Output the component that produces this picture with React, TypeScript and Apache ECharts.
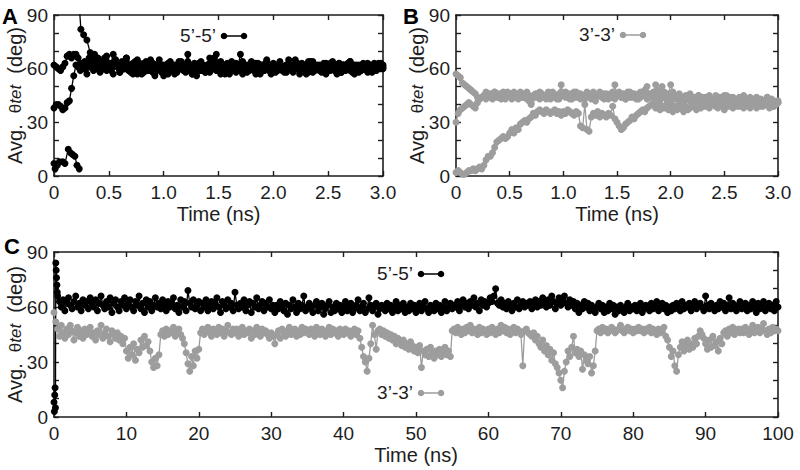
import { useEffect, useRef } from "react";
import * as echarts from "echarts";

// ---------- tick labels ----------
const Y_LABELS = [0, 30, 60, 90];
const AB_X_LABELS = ["0", "0.5", "1.0", "1.5", "2.0", "2.5", "3.0"];
const C_X_LABELS = ["0", "10", "20", "30", "40", "50", "60", "70", "80", "90", "100"];

// ---------- panel A (5'-5', 0-3 ns, sampled every 0.02 ns) ----------
const A_STEP = 0.02;
const A_TRACE_1 = [
  62, 61, 60, 59, 61, 63, 67, 68, 66, 68,
  68, 66, 63, 61, 64, 62, 66, 68, 65, 61,
  63, 59, 62, 66, 64, 60, 63, 68, 65, 62,
  59, 64, 61, 66, 62, 58, 63, 60, 65, 61,
  57, 62, 64, 59, 61, 63, 58, 60, 65, 62,
  59, 61, 57, 63, 60, 62, 58, 64, 61, 59,
  62, 68, 60, 57, 63, 61, 59, 64, 62, 58,
  61, 63, 60, 66, 68, 61, 59, 62, 57, 63,
  60, 64, 61, 58, 62, 68, 63, 60, 59, 62,
  64, 61, 57, 63, 60, 62, 59, 65, 61, 58,
  63, 60, 62, 64, 59, 61, 58, 63, 60, 62,
  65, 61, 59, 63, 60, 62, 58, 61, 64, 60,
  62, 59, 61, 63, 57, 60, 62, 64, 59, 61,
  63, 58, 62, 60, 61, 64, 59, 62, 60, 58,
  61, 63, 60, 62, 59, 61, 63, 60, 62, 61,
  62,
];
const A_TRACE_2 = [
  38, 40, 40, 39, 37, 38, 41, 42, 49, 56,
  62, 61, 59, 62, 60, 57, 61, 63, 59, 62,
  60, 58, 64, 61, 59, 62, 60, 57, 63, 61,
  58, 62, 60, 64, 59, 61, 57, 62, 60, 63,
  61, 58, 60, 62, 59, 63, 56, 61, 60, 58,
  62, 60, 63, 59, 61, 57, 62, 60, 64, 61,
  58, 61, 59, 62, 60, 56, 61, 63, 59, 60,
  62, 58, 61, 60, 63, 59, 57, 62, 60, 61,
  58, 62, 60, 63, 59, 61, 57, 60, 62, 59,
  61, 63, 60, 58, 62, 59, 61, 64, 60, 57,
  62, 60, 59, 63, 61, 58, 62, 60, 61, 59,
  63, 60, 57, 62, 61, 59, 64, 60, 58, 62,
  60, 61, 59, 62, 58, 60, 63, 61, 59, 62,
  60, 58, 62, 61, 63, 59, 60, 57, 61, 62,
  59, 61, 60, 58, 62, 60, 61, 59, 63, 60,
  61,
];
// third trajectory: low branch, then wraps in from above 90
const A_TRACE_3_LOW = [
  [0, 7], [0.01, 4], [0.03, 6], [0.05, 8], [0.08, 8], [0.1, 7],
  [0.13, 15], [0.15, 13], [0.17, 12], [0.19, 11], [0.21, 6], [0.23, 4],
];
const A_TRACE_3_HIGH_HEAD = [
  [0.225, 100], [0.245, 82], [0.27, 79], [0.3, 76], [0.33, 69], [0.37, 68],
];
const A_TRACE_3_TAIL_START = 0.4;
const A_TRACE_3_TAIL = [
  66, 62, 64, 60, 67, 63, 59, 62, 65, 61,
  58, 63, 60, 66, 62, 59, 61, 64, 57, 62,
  60, 63, 59, 61, 65, 58, 62, 60, 63, 61,
  56, 60, 62, 64, 59, 61, 58, 63, 60, 62,
  59, 64, 61, 57, 62, 60, 63, 59, 61, 58,
  62, 66, 60, 63, 59, 61, 64, 58, 62, 60,
  57, 63, 61, 59, 62, 60, 64, 61, 58, 62,
  60, 59, 63, 61, 57, 62, 60, 64, 59, 61,
  62, 58, 60, 63, 61, 59, 62, 65, 60, 58,
  61, 63, 59, 62, 60, 57, 61, 64, 62, 59,
  60, 62, 58, 61, 63, 60, 59, 62, 61, 57,
  63, 60, 62, 59, 61, 64, 58, 60, 62, 61,
  59, 62, 60, 63, 61, 58, 62, 60, 61, 63,
  60,
];

// ---------- panel B (3'-3', 0-3 ns, sampled every 0.02 ns) ----------
const B_STEP = 0.02;
const B_TRACE_1 = [
  57, 56, 55, 52, 51, 50, 49, 48, 47, 46,
  44, 43, 44, 45, 47, 44, 46, 43, 47, 45,
  44, 46, 47, 43, 45, 46, 44, 47, 45, 43,
  46, 44, 45, 47, 42, 40, 45, 44, 46, 47,
  44, 45, 43, 46, 44, 47, 45, 43, 46, 51,
  45, 47, 44, 46, 43, 45, 47, 44, 46, 45,
  43, 47, 45, 44, 46, 42, 45, 47, 44, 46,
  45, 43, 46, 44, 51, 45, 47, 44, 46, 43,
  45, 47, 44, 46, 45, 43, 47, 45, 48, 50,
  46, 44, 47, 51, 48, 45, 50, 47, 44, 46,
  51, 47, 45, 43, 46, 44, 42, 45, 43, 46,
  41, 44, 42, 45, 43, 40, 44, 42, 45, 41,
  43, 39, 44, 41, 42, 45, 40, 43, 41, 44,
  42, 39, 43, 41, 44, 40, 42, 38, 43, 41,
  40, 43, 39, 42, 41, 44, 40, 42, 39, 41,
  42,
];
const B_TRACE_2 = [
  30, 35, 37, 38, 39, 40, 41, 40, 39, 38,
  41, 43, 44, 45, 43, 46, 44, 45, 47, 44,
  46, 43, 45, 44, 47, 45, 43, 46, 44, 45,
  47, 44, 46, 43, 45, 41, 44, 46, 45, 43,
  46, 44, 45, 47, 43, 46, 44, 45, 43, 47,
  45, 44, 46, 43, 45, 47, 44, 46, 43, 45,
  44, 46, 45, 43, 47, 44, 45, 46, 44, 43,
  46, 45, 44, 47, 43, 45, 46, 44, 45, 43,
  47, 44, 46, 45, 43, 46, 44, 45, 47, 43,
  45, 46, 44, 43, 45, 42, 44, 46, 43, 45,
  41, 44, 43, 45, 42, 44, 41, 43, 45, 42,
  44, 40, 43, 45, 41, 44, 42, 39, 44, 43,
  41, 45, 42, 44, 40, 43, 45, 41, 44, 42,
  43, 40, 44, 42, 45, 41, 43, 44, 40, 42,
  44, 41, 43, 40, 42, 44, 41, 43, 42, 40,
  41,
];
const B_TRACE_3 = [
  2, 3, 2, 1, 1, 2, 3, 3, 4, 3,
  4, 5, 4, 6, 9, 11, 11, 13, 16, 19,
  20, 21, 22, 21, 22, 24, 26, 24, 27, 26,
  29, 30, 31, 30, 32, 33, 35, 34, 36, 37,
  36, 35, 37, 36, 35, 36, 37, 35, 36, 34,
  36, 35, 37, 36, 35, 34, 36, 35, 28, 27,
  40, 26, 25, 33, 35, 34, 36, 33, 35, 34,
  33, 35, 34, 39, 32, 30, 28, 26, 27, 29,
  30, 31, 33, 32, 34, 35, 36, 37, 36, 38,
  39, 40, 41, 38, 40, 37, 39, 38, 40, 37,
  38, 36, 39, 37, 40, 38, 36, 39, 37, 38,
  40, 39, 37, 41, 38, 40, 39, 42, 38, 40,
  41, 39, 38, 42, 40, 37, 41, 39, 40, 38,
  42, 40, 39, 41, 38, 40, 43, 39, 41, 40,
  38, 41, 40, 39, 42, 40, 38, 41, 39, 40,
  41,
];

// ---------- panel C (0-100 ns, sampled every 0.25 ns) ----------
const C_STEP = 0.25;
const C_55_START = [
  [0, 8], [0.05, 3], [0.1, 12], [0.15, 16], [0.2, 5],
  [0.25, 84], [0.3, 80], [0.35, 76], [0.4, 72], [0.45, 68],
];
const C_55_MAIN_START = 0.5;
const C_55_MAIN = [
  66, 63, 60, 64, 58, 62, 65, 61, 59, 63, 66, 60, 62, 58, 64, 61, 63, 59, 65, 62,
  60, 64, 58, 62, 66, 61, 59, 63, 60, 65, 57, 62, 64, 60, 58, 63, 61, 65, 59, 62,
  64, 60, 58, 63, 61, 66, 59, 62, 57, 64, 60, 63, 58, 61, 65, 60, 62, 59, 64, 61,
  58, 63, 60, 62, 65, 59, 61, 57, 64, 60, 63, 58, 69, 62, 60, 64, 59, 61, 63, 58,
  62, 60, 64, 58, 61, 63, 59, 62, 65, 60, 57, 63, 61, 59, 64, 60, 62, 58, 68, 61,
  59, 62, 60, 64, 58, 61, 63, 57, 62, 60, 65, 59, 61, 63, 58, 62, 60, 64, 59, 61,
  57, 61, 59, 63, 60, 58, 62, 56, 61, 59, 64, 60, 57, 62, 59, 61, 66, 58, 60, 62,
  59, 57, 61, 63, 58, 60, 62, 56, 59, 61, 63, 57, 60, 58, 62, 59, 61, 57, 60, 63,
  58, 60, 62, 57, 59, 61, 64, 58, 60, 62, 57, 59, 65, 61, 58, 60, 62, 56, 59, 61,
  60, 58, 62, 59, 61, 57, 60, 63, 58, 61, 59, 62, 57, 60, 58, 62, 59, 61, 57, 60,
  62, 58, 60, 63, 59, 57, 61, 60, 58, 62, 59, 61, 57, 60, 63, 58, 60, 62, 59, 61,
  60, 63, 58, 61, 64, 60, 62, 59, 63, 61, 65, 60, 62, 58, 64, 61, 63, 60, 62, 65,
  63, 66, 70, 62, 61, 64, 60, 62, 59, 63, 61, 58, 62, 60, 64, 59, 61, 63, 60, 62,
  61, 63, 59, 62, 64, 60, 63, 61, 65, 62, 60, 64, 61, 66, 63, 59, 62, 65, 61, 63,
  66, 62, 60, 64, 61, 63, 59, 62, 57, 61, 59, 63, 60, 62, 58, 61, 59, 57, 60, 62,
  59, 61, 57, 60, 58, 62, 59, 61, 56, 60, 58, 61, 59, 57, 60, 62, 58, 60, 59, 61,
  58, 60, 62, 57, 59, 61, 60, 58, 62, 59, 61, 63, 58, 60, 62, 59, 61, 57, 60, 58,
  61, 59, 62, 60, 58, 63, 59, 61, 60, 62, 58, 60, 63, 59, 61, 62, 60, 58, 66, 61,
  59, 62, 60, 58, 61, 59, 63, 60, 62, 58, 61, 65, 59, 62, 60, 58, 61, 63, 59, 60,
  62, 58, 61, 59, 63, 60, 57, 62, 59, 61, 63, 58, 60, 62, 59, 61, 58, 63, 60,
];
const C_33 = [
  57, 52, 48, 44, 50, 46, 43, 48, 45, 50, 47, 42, 46, 49, 44, 47, 43, 48, 45, 46,
  49, 44, 46, 42, 47, 45, 50, 43, 46, 48, 44, 41, 47, 45, 43, 46, 42, 44, 40, 43,
  36, 32, 38, 34, 40, 31, 37, 35, 42, 38, 44, 39, 41, 36, 30, 27, 32, 28, 34, 45,
  47, 44, 48, 45, 47, 46, 49, 44, 47, 48, 45, 43, 40, 35, 29, 25, 33, 28, 36, 32,
  37, 46, 48, 45, 47, 49, 46, 44, 48, 47, 45, 49, 46, 48, 44, 47, 50, 46, 45, 48,
  46, 48, 44, 47, 49, 45, 47, 46, 48, 43, 47, 45, 49, 46, 44, 48, 46, 47, 45, 43,
  46, 44, 40, 45, 47, 43, 48, 46, 44, 47, 49, 45, 46, 48, 44, 47, 45, 49, 46, 48,
  47, 45, 48, 46, 44, 49, 47, 45, 48, 46, 44, 47, 49, 45, 48, 46, 47, 44, 48, 46,
  45, 48, 46, 47, 44, 46, 48, 45, 47, 43, 38, 33, 30, 25, 32, 40, 50, 45, 37, 47,
  48, 45, 47, 44, 46, 43, 45, 42, 44, 40, 43, 41, 39, 42, 38, 40, 37, 41, 39, 36,
  38, 35, 39, 27, 36, 34, 37, 33, 38, 35, 32, 36, 34, 37, 33, 35, 38, 34, 36, 33,
  47, 48, 46, 49, 47, 45, 48, 46, 49, 47, 50, 46, 48, 47, 45, 49, 46, 48, 47, 45,
  48, 46, 49, 47, 45, 48, 46, 50, 47, 49, 46, 48, 45, 47, 49, 46, 48, 47, 45, 28,
  47, 48, 46, 45, 44, 46, 42, 44, 40, 38, 42, 36, 39, 34, 37, 31, 35, 29, 27, 24,
  20, 16, 25, 30, 36, 33, 38, 44, 35, 37, 33, 36, 26, 34, 31, 29, 33, 24, 28, 36,
  47, 48, 46, 49, 47, 48, 46, 47, 49, 48, 46, 47, 48, 50, 47, 46, 48, 49, 47, 48,
  46, 48, 47, 49, 47, 48, 46, 48, 47, 49, 46, 48, 47, 45, 48, 46, 47, 49, 44, 42,
  38, 33, 36, 28, 25, 34, 38, 41, 36, 39, 42, 37, 40, 38, 43, 40, 44, 47, 45, 43,
  40, 37, 42, 38, 44, 39, 41, 36, 43, 40, 46, 47, 44, 48, 46, 49, 45, 47, 48, 46,
  48, 46, 49, 47, 45, 48, 50, 46, 47, 49, 46, 48, 51, 47, 45, 48, 46, 49, 47, 48,
  47,
];

// ---------- styles ----------
const FONT = "'Liberation Sans', Arial, Helvetica, sans-serif";
const INK = "#1d1d1d";
const BLACK = "#000000";
const GRAY = "#9d9d9d";
const LABEL_55 = "5\u2019-5\u2019";
const LABEL_33 = "3\u2019-3\u2019";

const toPairs = (values: number[], step: number, start = 0) =>
  values.map((v, i) => [Number((start + i * step).toFixed(4)), v]);

const axisLineStyle = { color: INK, width: 1.6 };
const tickStyle = { show: true, inside: true, length: 5, lineStyle: { color: INK, width: 1.4 } };

function xAxes(gridIndex: number, max: number, interval: number, labels: string[], nameGap: number, margin: number) {
  return [
    {
      type: "value", gridIndex, min: 0, max, interval, position: "bottom",
      name: "Time (ns)", nameLocation: "middle", nameGap, nameMoveOverlap: false,
      nameTextStyle: { fontFamily: FONT, fontSize: 20, lineHeight: 20, color: INK },
      axisLine: { show: true, onZero: false, lineStyle: axisLineStyle },
      axisTick: tickStyle,
      axisLabel: {
        show: true, margin, fontFamily: FONT, fontSize: 19, lineHeight: 19, color: INK,
        showMinLabel: true, showMaxLabel: true,
        formatter: (v: number) => labels[Math.round(v / interval)] ?? "",
      },
      splitLine: { show: false },
    },
    {
      type: "value", gridIndex, min: 0, max, interval, position: "top",
      axisLine: { show: true, onZero: false, lineStyle: axisLineStyle },
      axisTick: tickStyle, axisLabel: { show: false }, splitLine: { show: false },
    },
  ];
}

function yAxes(gridIndex: number, nameGap: number) {
  return [
    {
      type: "value", gridIndex, min: 0, max: 90, interval: 10, position: "left",
      name: "{n|Avg.  }{g|\u03b8}{i|tet}{n|  (deg)}", nameLocation: "middle", nameGap,
      nameMoveOverlap: false,
      nameTextStyle: {
        color: INK,
        lineHeight: 20,
        rich: {
          n: { fontFamily: FONT, fontSize: 20, lineHeight: 20, color: INK },
          g: { fontFamily: FONT, fontSize: 17, lineHeight: 20, color: INK },
          i: { fontFamily: FONT, fontSize: 17, lineHeight: 20, fontStyle: "italic", color: INK },
        },
      },
      axisLine: { show: true, onZero: false, lineStyle: axisLineStyle },
      axisTick: tickStyle,
      axisLabel: {
        show: true, margin: 6, fontFamily: FONT, fontSize: 19, color: INK,
        showMinLabel: true, showMaxLabel: true,
        formatter: (v: number) => (Y_LABELS.includes(v) ? String(v) : ""),
      },
      splitLine: { show: false },
    },
    {
      type: "value", gridIndex, min: 0, max: 90, interval: 10, position: "right",
      axisLine: { show: true, onZero: false, lineStyle: axisLineStyle },
      axisTick: tickStyle, axisLabel: { show: false }, splitLine: { show: false },
    },
  ];
}

function lineSeries(name: string, data: number[][], axis: number, color: string, size: number) {
  return {
    type: "line", name, data, xAxisIndex: axis, yAxisIndex: axis,
    symbol: "circle", symbolSize: size, showSymbol: true, showAllSymbol: true,
    clip: true, silent: true, emphasis: { disabled: true },
    itemStyle: { color, borderWidth: 0 },
    lineStyle: { color, width: 1.3 },
  };
}

function legendMark(textRight: number, y: number, text: string, color: string) {
  const x1 = textRight + 8;
  const x2 = textRight + 28;
  return [
    { type: "text", style: { text, x: textRight, y, textAlign: "right", textVerticalAlign: "middle", font: `19px ${FONT}`, fill: INK } },
    { type: "line", shape: { x1, y1: y + 1, x2, y2: y + 1 }, style: { stroke: color, lineWidth: 1.5 } },
    { type: "circle", shape: { cx: x1, cy: y + 1, r: 3.3 }, style: { fill: color } },
    { type: "circle", shape: { cx: x2, cy: y + 1, r: 3.3 }, style: { fill: color } },
  ];
}

function panelLetter(x: number, y: number, text: string) {
  return { type: "text", style: { text, x, y, textAlign: "left", textVerticalAlign: "middle", font: `bold 22px ${FONT}`, fill: BLACK } };
}

const gridBase = { containLabel: false, outerBoundsMode: "none" };

export default function App() {
  const ref = useRef<HTMLDivElement>(null);

  useEffect(() => {
    if (!ref.current) return;
    const chart = echarts.init(ref.current, undefined, { renderer: "svg" });

    const a3High = [...A_TRACE_3_HIGH_HEAD, ...toPairs(A_TRACE_3_TAIL, A_STEP, A_TRACE_3_TAIL_START)];
    const c55 = [...C_55_START, ...toPairs(C_55_MAIN, C_STEP, C_55_MAIN_START)];

    chart.setOption({
      animation: false,
      backgroundColor: "#ffffff",
      grid: [
        { ...gridBase, left: 54, top: 15, width: 329, height: 161 },
        { ...gridBase, left: 456, top: 15, width: 322, height: 161 },
        { ...gridBase, left: 54, top: 252, width: 724, height: 165 },
      ],
      xAxis: [
        ...xAxes(0, 3, 0.5, AB_X_LABELS, 28, 7),
        ...xAxes(1, 3, 0.5, AB_X_LABELS, 28, 7),
        ...xAxes(2, 100, 10, C_X_LABELS, 28, 7),
      ],
      yAxis: [...yAxes(0, 29), ...yAxes(1, 29), ...yAxes(2, 29)],
      series: [
        lineSeries(LABEL_55, toPairs(A_TRACE_1, A_STEP), 0, BLACK, 7),
        lineSeries(LABEL_55, toPairs(A_TRACE_2, A_STEP), 0, BLACK, 7),
        lineSeries(LABEL_55, A_TRACE_3_LOW, 0, BLACK, 7),
        lineSeries(LABEL_55, a3High, 0, BLACK, 7),
        lineSeries(LABEL_33, toPairs(B_TRACE_1, B_STEP), 2, GRAY, 7),
        lineSeries(LABEL_33, toPairs(B_TRACE_2, B_STEP), 2, GRAY, 7),
        lineSeries(LABEL_33, toPairs(B_TRACE_3, B_STEP), 2, GRAY, 7),
        lineSeries(LABEL_33, toPairs(C_33, C_STEP), 4, GRAY, 7),
        lineSeries(LABEL_55, c55, 4, BLACK, 7),
      ],
      graphic: [
        panelLetter(2, 16, "A"),
        panelLetter(403, 16, "B"),
        panelLetter(4, 246, "C"),
        ...legendMark(216, 35, LABEL_55, BLACK),
        ...legendMark(615, 34, LABEL_33, GRAY),
        ...legendMark(413, 273, LABEL_55, BLACK),
        ...legendMark(413, 392, LABEL_33, GRAY),
      ],
    });

    return () => chart.dispose();
  }, []);

  return <div ref={ref} style={{ position: "fixed", left: 0, top: 0, width: 800, height: 470, background: "#fff" }} />;
}
